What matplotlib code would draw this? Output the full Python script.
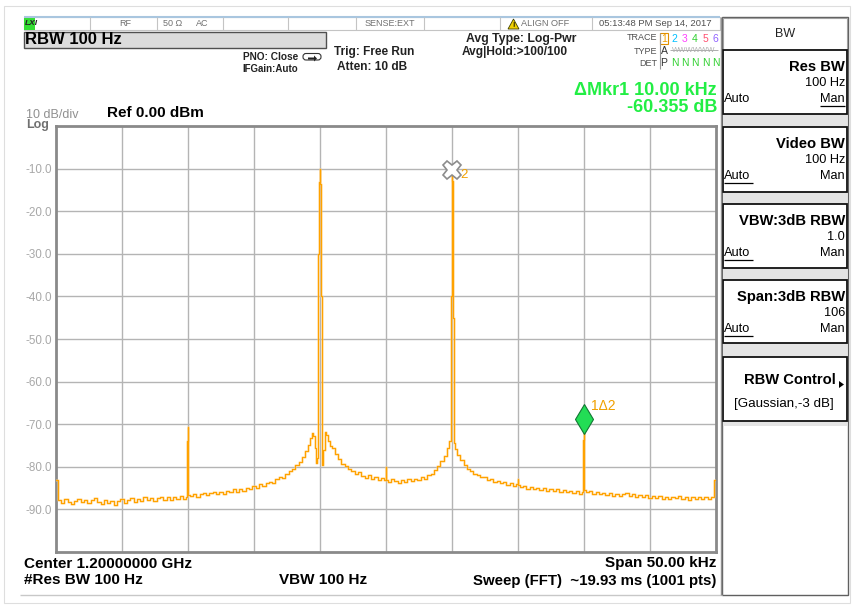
import matplotlib
matplotlib.use("Agg")
import matplotlib.pyplot as plt
from matplotlib.patches import Rectangle, FancyBboxPatch, Polygon
import matplotlib.transforms as mtransforms

plt.rcParams['font.family'] = ['Liberation Sans', 'DejaVu Sans']

# ---------------- data (offset from 1.2 GHz centre, kHz / level dBm) ----------------
freq_khz = [
    -25.0, -24.75, -24.5, -24.25, -24.0, -23.75, -23.5, -23.25, -23.0, -22.75,
    -22.5, -22.25, -22.0, -21.75, -21.5, -21.25, -21.0, -20.75, -20.5, -20.25,
    -20.0, -19.75, -19.5, -19.25, -19.0, -18.75, -18.5, -18.25, -18.0, -17.75,
    -17.5, -17.25, -17.0, -16.75, -16.5, -16.25, -16.0, -15.75, -15.5, -15.25,
    -15.1, -15.05, -15.0, -14.95, -14.75, -14.5, -14.25, -14.0, -13.75, -13.5,
    -13.25, -13.0, -12.75, -12.5, -12.25, -12.0, -11.75, -11.5, -11.25, -11.0,
    -10.75, -10.5, -10.25, -10.0, -9.75, -9.5, -9.25, -9.0, -8.75, -8.5,
    -8.25, -8.0, -7.75, -7.5, -7.25, -7.0, -6.75, -6.5, -6.25, -6.0,
    -5.8, -5.65, -5.55, -5.45, -5.35, -5.25, -5.2, -5.15, -5.1, -5.05,
    -5.0, -4.95, -4.9, -4.85, -4.8, -4.7, -4.6, -4.45, -4.3, -4.15,
    -4.0, -3.75, -3.5, -3.25, -3.0, -2.75, -2.5, -2.25, -2.0, -1.75,
    -1.5, -1.25, -1.0, -0.75, -0.5, -0.25, -0.05, 0.0, 0.05, 0.25,
    0.5, 0.75, 1.0, 1.25, 1.5, 1.75, 2.0, 2.25, 2.5, 2.75,
    3.0, 3.25, 3.5, 3.75, 4.0, 4.25, 4.5, 4.7, 4.85, 4.95,
    5.0, 5.05, 5.1, 5.15, 5.3, 5.5, 5.75, 6.0, 6.25, 6.5,
    6.75, 7.0, 7.25, 7.5, 7.75, 8.0, 8.25, 8.5, 8.75, 9.0,
    9.25, 9.5, 9.75, 9.95, 10.0, 10.05, 10.25, 10.5, 10.75, 11.0,
    11.25, 11.5, 11.75, 12.0, 12.25, 12.5, 12.75, 13.0, 13.25, 13.5,
    13.75, 14.0, 14.25, 14.5, 14.75, 14.9, 14.95, 15.0, 15.05, 15.25,
    15.5, 15.75, 16.0, 16.25, 16.5, 16.75, 17.0, 17.25, 17.5, 17.75,
    18.0, 18.25, 18.5, 18.75, 19.0, 19.25, 19.5, 19.75, 20.0, 20.25,
    20.5, 20.75, 21.0, 21.25, 21.5, 21.75, 22.0, 22.25, 22.5, 22.75,
    23.0, 23.25, 23.5, 23.75, 24.0, 24.25, 24.5, 24.75, 25.0,
]
level_dbm = [
    -83.0, -87.9, -88.4, -87.6, -88.2, -88.8, -88.1, -87.5, -88.3, -87.8,
    -88.6, -87.9, -87.4, -88.2, -88.7, -87.7, -88.4, -88.0, -88.9, -88.1,
    -87.6, -88.5, -87.8, -87.3, -88.2, -87.6, -88.0, -87.2, -87.9, -87.4,
    -88.1, -87.3, -87.0, -87.7, -87.2, -87.8, -87.1, -87.5, -86.9, -87.6,
    -87.0, -74.0, -70.7, -86.6, -86.9, -86.4, -87.0, -86.5, -86.1, -86.7,
    -86.2, -85.8, -86.4, -85.9, -86.3, -85.6, -85.9, -85.3, -85.8, -85.2,
    -85.6, -84.9, -85.3, -84.5, -84.9, -84.1, -84.6, -83.8, -83.5, -83.9,
    -82.9, -82.3, -82.6, -81.7, -80.9, -80.4, -79.6, -78.9, -77.6, -76.3,
    -74.8, -73.2, -72.0, -72.7, -75.5, -79.2, -78.0, -60.0, -30.0, -13.2,
    -10.1, -13.5, -40.0, -70.0, -79.5, -76.0, -71.8, -72.6, -73.9, -75.0,
    -75.6, -77.0, -78.2, -79.3, -79.9, -80.6, -81.0, -81.6, -81.3, -82.2,
    -82.6, -82.0, -82.8, -82.4, -83.1, -82.7, -83.0, -80.0, -83.2, -83.6,
    -82.9, -83.4, -83.7, -83.1, -83.5, -82.9, -83.4, -82.8, -83.2, -82.5,
    -82.8, -82.0, -81.6, -80.8, -79.9, -78.6, -77.4, -75.5, -74.0, -40.0,
    -10.4, -13.0, -45.0, -74.3, -75.8, -77.2, -78.4, -79.5, -80.6, -80.9,
    -81.7, -81.9, -82.5, -82.3, -83.1, -82.8, -83.5, -83.3, -83.9, -83.6,
    -84.2, -83.9, -84.4, -84.1, -82.8, -84.3, -84.8, -84.5, -85.1, -84.7,
    -85.3, -84.9, -85.4, -85.0, -85.6, -85.2, -85.7, -85.3, -85.9, -85.4,
    -86.0, -85.6, -86.1, -85.7, -86.3, -86.0, -73.8, -70.7, -85.5, -86.0,
    -85.7, -86.3, -85.9, -86.5, -86.1, -86.7, -86.2, -86.8, -86.3, -86.9,
    -86.4, -86.2, -86.9, -86.5, -87.1, -86.6, -87.2, -86.7, -87.3, -86.8,
    -87.4, -86.9, -87.5, -87.0, -87.6, -87.1, -87.4, -86.9, -87.6, -87.2,
    -87.7, -87.1, -87.5, -87.0, -87.6, -87.2, -87.5, -87.1, -83.0,
]
y_ticks = [-10, -20, -30, -40, -50, -60, -70, -80, -90]
y_tick_labels = ["-10.0", "-20.0", "-30.0", "-40.0", "-50.0", "-60.0", "-70.0", "-80.0", "-90.0"]
x_grid = [-25, -20, -15, -10, -5, 0, 5, 10, 15, 20, 25]
marker2 = (5.0, -10.3)
marker1 = (15.0, -70.7)

W, H = 852, 606
fig = plt.figure(figsize=(W / 100, H / 100), dpi=100)
fig.patch.set_facecolor("white")

# ---------------- chrome overlay (pixel coords) ----------------
bg = fig.add_axes([0, 0, 1, 1], zorder=0)
bg.set_xlim(0, W)
bg.set_ylim(H, 0)
bg.axis("off")

def t(x, y, s, size=7.5, ha="left", color="black", weight="normal", **kw):
    bg.text(x, y, s, fontsize=size, ha=ha, va="center", color=color, weight=weight, **kw)

def rect(x0, y0, x1, y1, fc="none", ec="black", lw=1.0, z=1):
    bg.add_patch(Rectangle((x0, y0), x1 - x0, y1 - y0, fc=fc, ec=ec, lw=lw, zorder=z))

def hline(x0, x1, y, color="black", lw=1.0):
    bg.plot([x0, x1], [y, y], color=color, lw=lw, solid_capstyle="butt")

def vline(x, y0, y1, color="black", lw=1.0):
    bg.plot([x, x], [y0, y1], color=color, lw=lw, solid_capstyle="butt")

# outer faint frame
rect(4, 6, 850, 603, ec="#dedede", lw=0.8)

# status bar
rect(24, 17, 720, 30, fc="white", ec="#c4c4c4", lw=0.8)
hline(24, 720, 16.5, color="#a9c6df", lw=1.5)
for xc in [90, 157, 223, 288, 356, 424, 500, 592]:
    vline(xc, 17, 30, color="#c4c4c4", lw=0.8)
rect(24, 18, 35, 29.5, fc="#33dd33", ec="none")
t(25, 23.5, "LXI", size=6, weight="bold", color="#222222", style="italic")
t(125, 24, "RF", size=6.5, color="#707070", ha="center")
t(163, 24, "50 Ω", size=6.5, color="#707070")
t(196, 24, "AC", size=6.5, color="#707070")
t(390, 24, "SENSE:EXT", size=6.5, color="#707070", ha="center")
bg.add_patch(Polygon([[508, 29], [513.5, 19], [519, 29]], closed=True, fc="#f0d000", ec="#404000", lw=0.6, zorder=3))
t(513.5, 25.5, "!", size=5, ha="center", weight="bold")
t(521, 24, "ALIGN OFF", size=6.6, color="#707070")
t(655, 24, "05:13:48 PM Sep 14, 2017", size=6.8, color="#505050", ha="center")

# RBW box
rect(24, 32, 326, 47.5, fc="#dcdcdc", ec="#505050", lw=1.0)
t(25, 40, "RBW 100 Hz", size=12, weight="bold")

t(298, 57, "PNO: Close", size=7.3, weight="bold", ha="right", color="#222222")
bg.add_patch(FancyBboxPatch((303, 53.5), 18, 6.5, boxstyle="round,pad=0,rounding_size=3",
                            fc="white", ec="#333333", lw=0.8))
bg.add_patch(Polygon([[308, 57.5], [314, 57.5], [314, 55.5], [317, 58.5], [314, 61.5], [314, 59.5], [308, 59.5]],
                     closed=True, fc="#222222", ec="none"))
t(242, 69, "IFGain:Auto", size=7, weight="bold", color="#222222")
t(334, 52, "Trig: Free Run", size=8.6, weight="bold", color="#222222")
t(337, 67, "Atten: 10 dB", size=8.6, weight="bold", color="#222222")
t(466, 39, "Avg Type: Log-Pwr", size=8.8, weight="bold", color="#222222")
t(462, 52, "Avg|Hold:>100/100", size=8.6, weight="bold", color="#222222")

# trace table
t(657, 38, "TRACE", size=6.5, ha="right", color="#505050")
t(657, 51, "TYPE", size=6.5, ha="right", color="#505050")
t(657, 63, "DET", size=6.5, ha="right", color="#505050")
vline(659.5, 33, 69, color="#999999", lw=0.8)
rect(660, 32.5, 668, 44, fc="white", ec="#e09000", lw=0.8)
tr_cols = ["#f0a000", "#00c0ff", "#ff40ff", "#30d030", "#ff5070", "#9060ff"]
for i, c in enumerate(tr_cols):
    t(664 + i * 10.3, 39, str(i + 1), size=7.5, ha="center", color=c)
t(664, 51, "A", size=7.5, ha="center", color="#333333")
t(694, 50, "WWWWWW", size=5.5, ha="center", color="#b0b0b0")
hline(670, 718, 50, color="#a0a0a0", lw=0.6)
t(664, 63, "P", size=7.5, ha="center", color="#333333")
for i in range(5):
    t(674.5 + i * 10.3, 63, "N", size=7.5, ha="center", color="#30d030")

# marker delta readout
green = "#22ee44"
t(717, 90.5, "ΔMkr1 10.00 kHz", size=13, ha="right", weight="bold", color=green)
t(717, 108, "-60.355 dB", size=13, ha="right", weight="bold", color=green)

# scale labels
t(26, 114.5, "10 dB/div", size=9, color="#909090")
t(26, 125, "Log", size=9, color="#707070", weight="bold")
t(107, 113, "Ref 0.00 dBm", size=11, weight="bold")

# bottom annotations
t(24, 563.5, "Center 1.20000000 GHz", size=11, weight="bold")
t(716, 563.5, "Span 50.00 kHz", size=11, weight="bold", ha="right")
t(24, 580.5, "#Res BW 100 Hz", size=11, weight="bold")
t(323, 580.5, "VBW 100 Hz", size=11, weight="bold", ha="center")
t(716, 580.5, "Sweep (FFT)  ~19.93 ms (1001 pts)", size=10.8, weight="bold", ha="right")
hline(20, 722, 595, color="#c8c8c8", lw=1.0)
vline(720.5, 17, 595, color="#909090", lw=1.0)

# right soft-key panel
rect(722, 17, 848, 595, fc="white", ec="#606060", lw=1.0)
rect(723, 18, 847, 50, fc="white", ec="#a0a0a0", lw=0.8)
t(785, 34, "BW", size=9, ha="center", color="#222222")
boxes = [(50, 114), (127, 192), (204, 268), (280, 343), (357, 421)]
gaps = [(114, 127), (192, 204), (268, 280), (343, 357), (421, 426)]
for g0, g1 in gaps:
    rect(723, g0, 847, g1, fc="#e4e4e4", ec="none")
for b0, b1 in boxes:
    rect(723, b0, 847, b1, fc="white", ec="#111111", lw=1.3)

def key(y0, title, value, auto_u):
    t(845, y0 + 17, title, size=10.6, ha="right", weight="bold")
    t(845, y0 + 33, value, size=9.2, ha="right")
    t(724, y0 + 49, "Auto", size=9.2)
    t(845, y0 + 49, "Man", size=9.2, ha="right")
    if auto_u:
        hline(724, 753, y0 + 56, lw=0.9)
    else:
        hline(820, 845, y0 + 56, lw=0.9)

key(50, "Res BW", "100 Hz", False)
key(127, "Video BW", "100 Hz", True)
key(204, "VBW:3dB RBW", "1.0", True)
key(280, "Span:3dB RBW", "106", True)
t(836, 380, "RBW Control", size=10.6, ha="right", weight="bold")
bg.add_patch(Polygon([[839, 381], [844, 384.5], [839, 388]], closed=True, fc="black", ec="none"))
t(784, 404, "[Gaussian,-3 dB]", size=9.6, ha="center")

# ---------------- spectrum axes ----------------
x0p, x1p, y0p, y1p = 56, 716, 126, 552
ax = fig.add_axes([x0p / W, 1 - y1p / H, (x1p - x0p) / W, (y1p - y0p) / H], zorder=2)
ax.set_facecolor("white")
ax.set_xlim(-25, 25)
ax.set_ylim(-100, 0)
for xv in x_grid[1:-1]:
    ax.axvline(xv, color="#b4b4b4", lw=1.0, zorder=1)
for yv in y_ticks:
    ax.axhline(yv, color="#b4b4b4", lw=1.0, zorder=1)
for s in ax.spines.values():
    s.set_color("#8a8a8a")
    s.set_linewidth(2.0)
ax.set_xticks([])
ax.set_yticks(y_ticks)
ax.set_yticklabels(y_tick_labels)
ax.tick_params(axis="y", length=0, pad=3, labelsize=8.4, labelcolor="#a8a8a8")

ax.plot(freq_khz, level_dbm, color="#ffd590", lw=2.0, alpha=0.45, drawstyle="steps-mid", zorder=3)
ax.plot(freq_khz, level_dbm, color="#ffa200", lw=0.9, drawstyle="steps-mid", zorder=4)

# markers
ax.plot([marker2[0]], [marker2[1]], marker="X", ms=13, mfc="white", mec="#8c8c8c", mew=1.2, zorder=6)
ax.annotate("2", xy=marker2, xytext=(6, -4), textcoords="offset points", fontsize=9.5,
            color="#f0a000", va="center", zorder=7)
off = mtransforms.offset_copy(ax.transData, fig=fig, x=0, y=8.5, units="dots")
ax.plot([marker1[0]], [marker1[1]], marker="d", ms=15, mfc="#22dd55", mec="#117733", mew=0.8,
        transform=off, zorder=6)
ax.annotate("1Δ2", xy=marker1, xytext=(5, 15), textcoords="offset points", fontsize=10,
            color="#f0a000", va="center", zorder=7)

fig.savefig("out.png", dpi=100, facecolor="white")
